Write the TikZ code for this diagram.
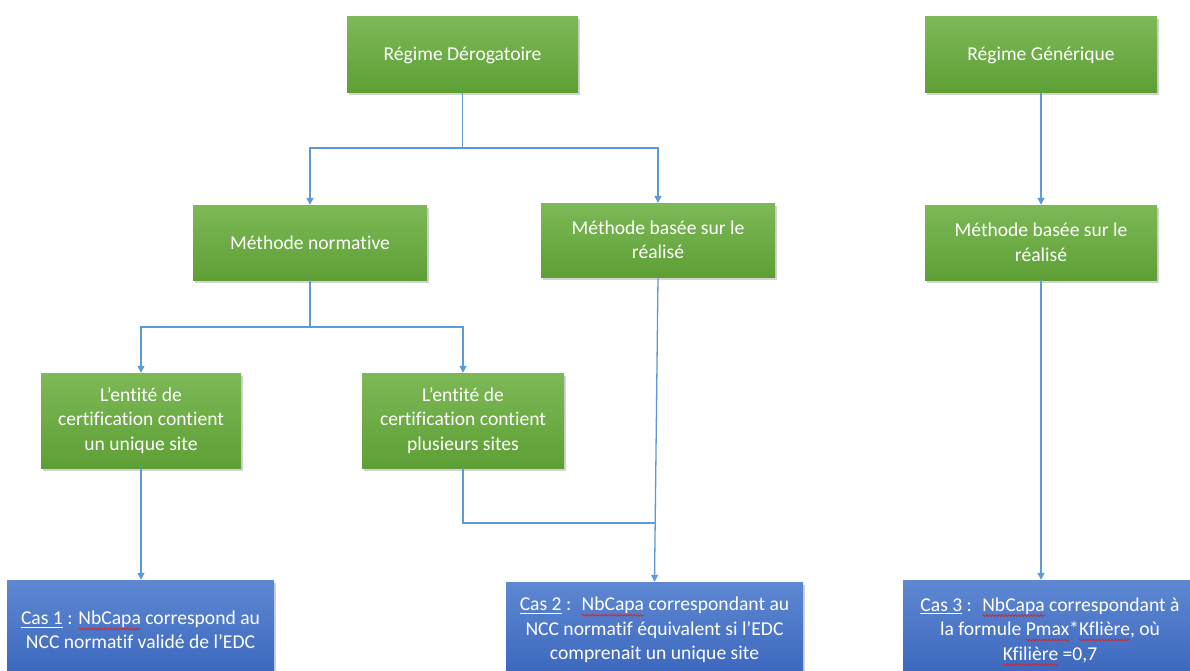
\documentclass[tikz,border=0pt]{standalone}
\usepackage{fontspec}
\setmainfont{Carlito}[Ligatures={NoCommon}]
\usetikzlibrary{shadows,arrows.meta,decorations.pathmorphing}
\definecolor{gtop}{HTML}{7DB957}
\definecolor{gbot}{HTML}{5E9F35}
\definecolor{btop}{HTML}{5E88D2}
\definecolor{bbot}{HTML}{3A66BD}
\definecolor{conn}{HTML}{5B9BD5}
\definecolor{spellred}{HTML}{E0201C}
\newsavebox\spellbox
\newlength\spellwd
\newcommand\spellmark[1]{\sbox\spellbox{#1}\setlength\spellwd{\wd\spellbox}%
  \leavevmode\rlap{\tikz[overlay,baseline=0pt]\draw[spellred,line width=0.7pt,decorate,decoration={snake,amplitude=0.9pt,segment length=3.2pt}] (0pt,-4.5pt) -- (\spellwd,-4.5pt);}\usebox\spellbox}
\newcommand\ulinecas[1]{\sbox\spellbox{#1}\leavevmode\rlap{\rule[-3pt]{\wd\spellbox}{0.8pt}}\usebox\spellbox}
\tikzset{
  base/.style={draw=none, text=white, align=center, inner sep=0pt,
    font=\fontsize{19.6}{24.5}\selectfont,
    drop shadow={opacity=0.35, shadow xshift=2pt, shadow yshift=-2.5pt}},
  gbox/.style={base, top color=gtop, bottom color=gbot},
  bbox/.style={base, top color=btop, bottom color=bbot},
  link/.style={draw=conn, line width=1.3pt},
  arrowlink/.style={link, -{Triangle[length=7pt,width=7pt]}}
}
\begin{document}
\begin{tikzpicture}[x=1pt,y=-1pt]
\useasboundingbox (0,0) rectangle (1190,671);
\clip (0,0) rectangle (1190,671);
\node[gbox, minimum width=231pt, minimum height=76pt] (rd) at (462.5,55) {Régime Dérogatoire};
\node[gbox, minimum width=232pt, minimum height=76pt] (rg) at (1041,55) {Régime Générique};
\node[gbox, minimum width=234pt, minimum height=75pt] (mn) at (310,242.5) {Méthode normative};
\node[gbox, minimum width=234pt, minimum height=74pt] (mb) at (658,240) {Méthode basée sur le\\réalisé};
\node[gbox, minimum width=232pt, minimum height=75pt] (mb2) at (1041,242.5) {Méthode basée sur le\\réalisé};
\node[gbox, minimum width=200pt, minimum height=95pt] (eu) at (141,420.5) {L’entité de\\certification contient\\un unique site};
\node[gbox, minimum width=202pt, minimum height=95pt] (ep) at (463,420.5) {L’entité de\\certification contient\\plusieurs sites};
\node[bbox, minimum width=267pt, minimum height=100pt] (c1) at (140.5,630) {\ulinecas{Cas 1} : \spellmark{NbCapa} correspond au\\NCC normatif validé de l’EDC};
\node[bbox, minimum width=297pt, minimum height=96pt] (c2) at (654.5,630) {\ulinecas{Cas 2} :~ \spellmark{NbCapa} correspondant au\\NCC normatif équivalent si l’EDC\\comprenait un unique site};
\node[bbox, minimum width=294pt, minimum height=100pt] (c3) at (1050,630) {\ulinecas{Cas 3} :~ \spellmark{NbCapa} correspondant à\\la formule \spellmark{Pmax}*\spellmark{Kflière}, où\\\spellmark{Kfilière} =0,7};
\coordinate (j1) at (462.5,148);
\coordinate (j2) at (310,327);
\coordinate (j3) at (655.7,523);
\draw[link] (rd.south) -- (j1);
\draw[arrowlink] (j1) -| (mn.north);
\draw[arrowlink] (j1) -| (mb.north);
\draw[arrowlink] (rg.south) -- (mb2.north);
\draw[link] (mn.south) -- (j2);
\draw[arrowlink] (j2) -| (eu.north);
\draw[arrowlink] (j2) -| (ep.north);
\draw[arrowlink] (eu.south) -- (eu.south |- c1.north);
\draw[arrowlink] (mb.south) -- (c2.north);
\draw[link] (ep.south) |- (j3);
\draw[arrowlink] (mb2.south) -- (mb2.south |- c3.north);
\end{tikzpicture}
\end{document}
